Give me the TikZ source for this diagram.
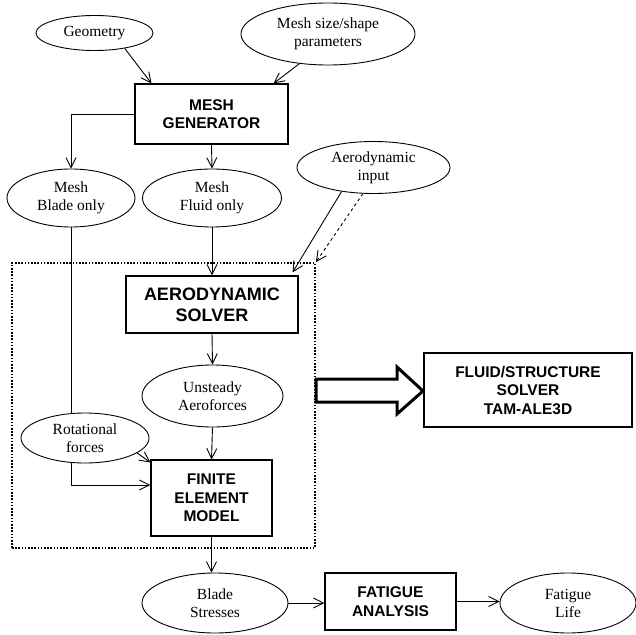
\documentclass[tikz,border=0pt]{standalone}
\usepackage{fontspec}
\setmainfont{Liberation Serif}
\setsansfont{Liberation Sans}
\usetikzlibrary{arrows.meta,shapes.geometric,calc}
\begin{document}
\begin{tikzpicture}[x=1pt,y=1pt,
  ell/.style={ellipse,draw,line width=0.9pt,inner sep=0pt,align=center,
    font=\fontsize{15.5}{18}\selectfont},
  boxn/.style={rectangle,draw,line width=1.1pt,inner sep=0pt,align=center,
    font=\fontsize{15.5}{18.5}\selectfont\sffamily\bfseries},
  arr/.style={line width=0.9pt,-{Straight Barb[length=10pt,width=10pt,line width=0.9pt]}},
  plain/.style={line width=0.9pt},
  grpbox/.style={rectangle,draw,line width=1.8pt,dash pattern=on 1.6pt off 1.6pt,inner sep=0pt}]
\useasboundingbox (0,0) rectangle (636,-634);

% group (dotted)
\node[grpbox,minimum width=303pt,minimum height=285pt] (grp) at (163.5,-405.5) {};

% nodes
\node[ell,minimum width=117pt,minimum height=35pt] (geo) at (94.5,-33) {Geometry};
\node[ell,minimum width=174pt,minimum height=62pt] (ms) at (328,-34) {Mesh size/shape\\parameters};
\node[boxn,minimum width=153pt,minimum height=60pt] (mg) at (211.5,-114) {MESH\\GENERATOR};
\node[ell,minimum width=128pt,minimum height=58pt] (blade) at (71,-198) {Mesh\\Blade only};
\node[ell,minimum width=139pt,minimum height=58pt] (fluid) at (212,-198) {Mesh\\Fluid only};
\node[ell,minimum width=153pt,minimum height=52pt] (ai) at (373.5,-167.5) {Aerodynamic\\input};
\node[boxn,minimum width=172pt,minimum height=57pt,font=\fontsize{18}{21}\selectfont\sffamily\bfseries] (aero) at (212,-304.5) {AERODYNAMIC\\SOLVER};
\node[ell,minimum width=141pt,minimum height=62pt] (unst) at (212.5,-396) {Unsteady\\Aeroforces};
\node[ell,minimum width=128pt,minimum height=50pt] (rot) at (85,-438) {Rotational\\forces};
\node[boxn,minimum width=121pt,minimum height=76pt] (fem) at (211.5,-498) {FINITE\\ELEMENT\\MODEL};
\node[boxn,minimum width=208pt,minimum height=74pt] (fsb) at (528,-390) {FLUID/STRUCTURE\\SOLVER\\TAM-ALE3D};
\node[ell,minimum width=146pt,minimum height=60pt] (bs) at (215,-603) {Blade\\Stresses};
\node[boxn,minimum width=131pt,minimum height=57pt] (fa) at (390.5,-601.5) {FATIGUE\\ANALYSIS};
\node[ell,minimum width=136pt,minimum height=60pt] (life) at (568,-603) {Fatigue\\Life};

% connectors
\draw[arr] (geo.-27) -- ([xshift=17pt]mg.north west);
\draw[arr] (ms.-134) -- ([xshift=-15pt]mg.north east);
\draw[arr] (mg.west) -| (blade.north);
\draw[arr] (mg.south) -- (fluid.north);
\draw[arr] (fluid.south) -- (aero.north);
\draw[arr] (ai.-143) -- ([xshift=-6pt,yshift=3pt]aero.north east);
\draw[arr,dashed] (ai.-112) -- (grp.north east);
\draw[arr] (aero.south) -- (unst.north);
\draw[plain] (blade.south) -- (rot.north -| blade.south);
\draw[arr] (unst.south) -- (fem.north);
\draw[arr] (rot.-16) -- ([yshift=-3pt]fem.north west);
\draw[arr] (rot.south -| blade.south) |- ([yshift=13pt]fem.west);
\draw[arr] (fem.south) -- (fem.south |- bs.north);
\draw[arr] (bs.east) -- (bs.east -| fa.west);
\draw[arr] (fa.east) -- (fa.east -| life.west);

% big hollow arrow
\draw[line width=3pt,line join=miter] (316,-379) -- (397,-379) -- (397,-367) -- (423,-391)
  -- (397,-414) -- (397,-402) -- (316,-402) -- cycle;
\end{tikzpicture}
\end{document}
